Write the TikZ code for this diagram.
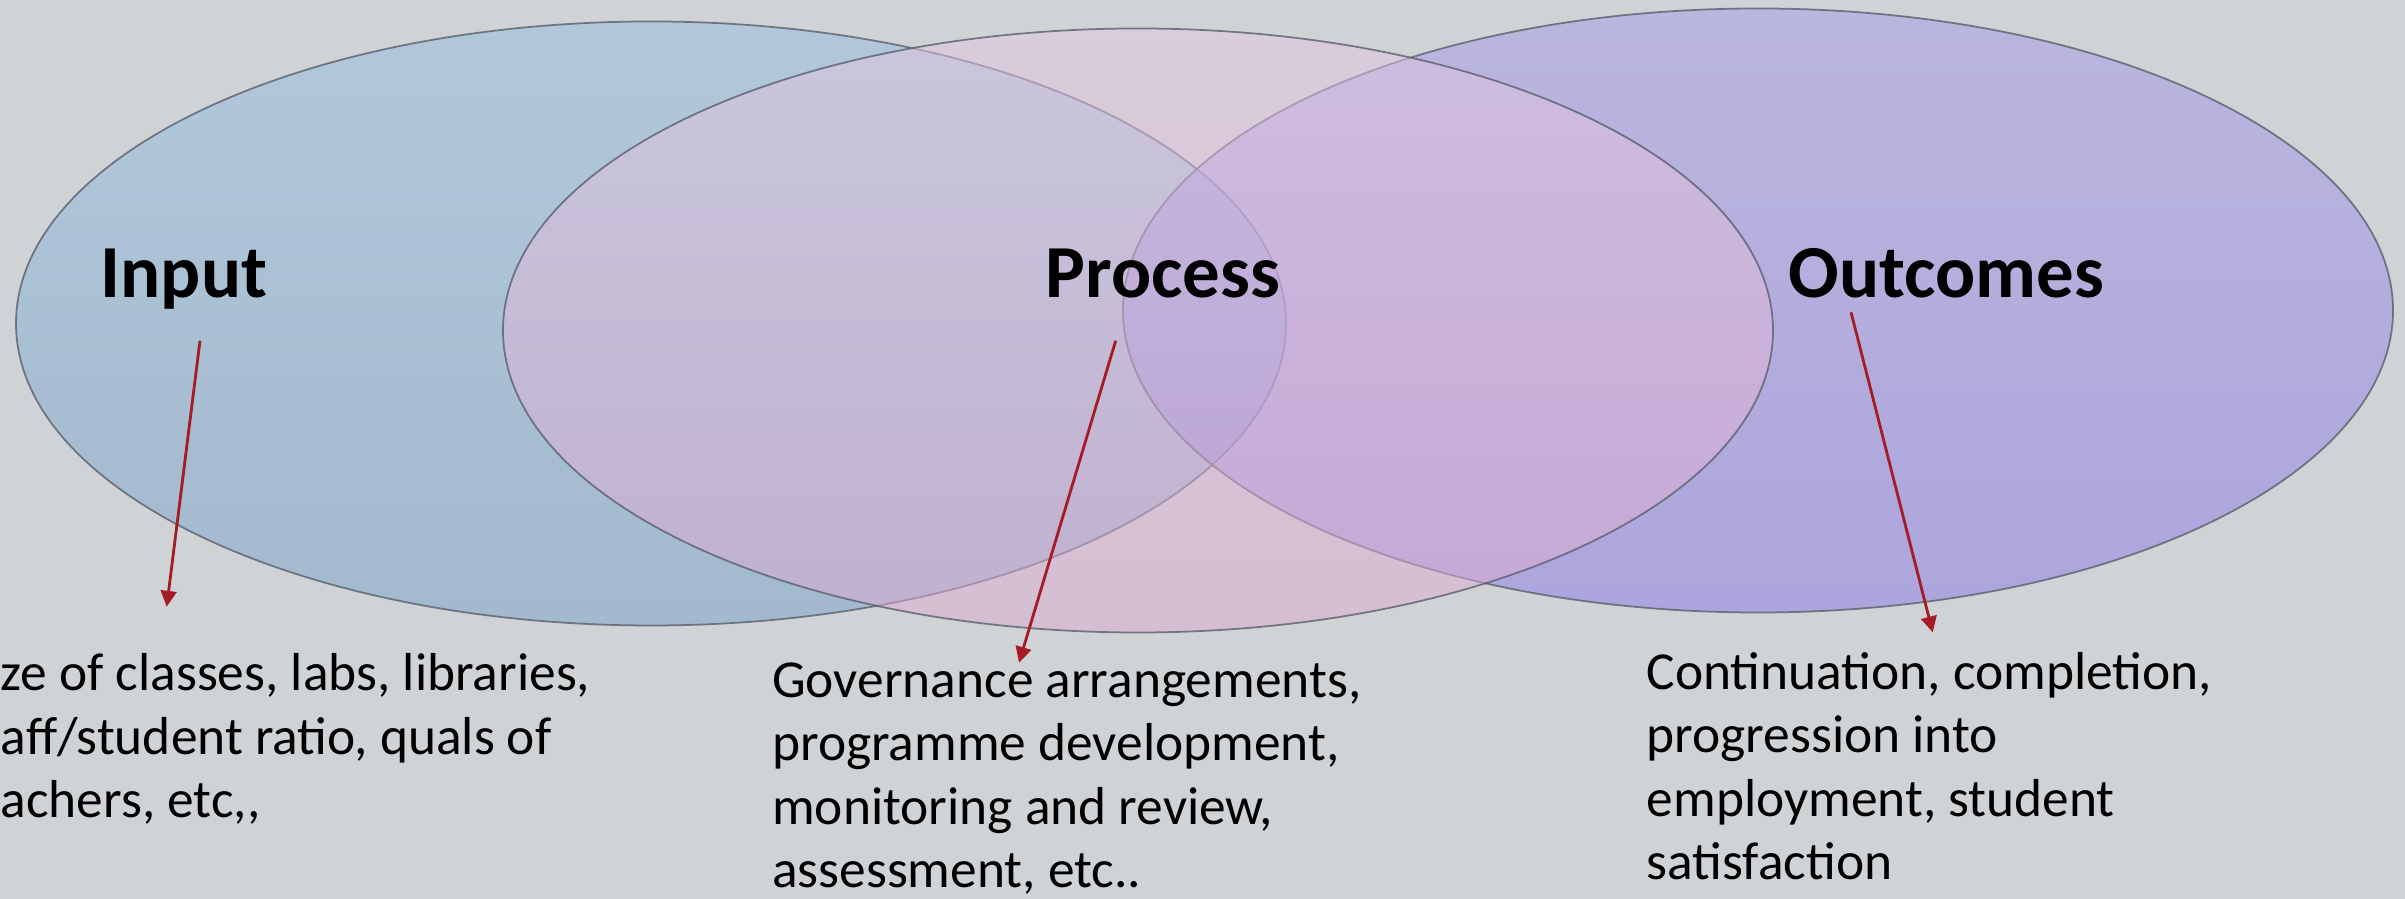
\documentclass[tikz,border=0pt]{standalone}
\usepackage{fontspec}
\setmainfont{Carlito}
\usetikzlibrary{arrows.meta}

\definecolor{slidebg}{RGB}{207,211,214}
\definecolor{inputtop}{RGB}{150,190,222}
\definecolor{inputbot}{RGB}{118,160,200}
\definecolor{proctop}{RGB}{228,198,225}
\definecolor{procbot}{RGB}{222,170,208}
\definecolor{outtop}{RGB}{166,155,230}
\definecolor{outbot}{RGB}{140,120,228}
\definecolor{rimline}{RGB}{90,95,110}
\definecolor{pointer}{RGB}{166,28,38}

\tikzset{
  venn/.style={draw=rimline, line width=0.5pt, fill opacity=0.5, draw opacity=0.8},
  heading/.style={font=\fontsize{21.3}{25}\selectfont\bfseries, inner sep=0pt, anchor=base west},
  blurb/.style={font=\fontsize{15.2}{18.1}\selectfont, align=left, inner sep=0pt, anchor=base west},
  pointto/.style={-{Triangle[length=4.5pt,width=4.5pt]}, pointer, line width=0.8pt}
}

\begin{document}
\begin{tikzpicture}
    % Slide area
    \useasboundingbox (0,0) rectangle (24.05,8.99);
    \clip (0,0) rectangle (24.05,8.99);
    \fill[slidebg] (0,0) rectangle (24.05,8.99);
    % Ellipses (Process last, it lies over the other two)
    \shade[venn, top color=inputtop, bottom color=inputbot] (6.51,5.755) ellipse [x radius=6.35, y radius=3.02];
    \shade[venn, top color=outtop, bottom color=outbot] (17.58,5.885) ellipse [x radius=6.35, y radius=3.02];
    \shade[venn, top color=proctop, bottom color=procbot] (11.38,5.685) ellipse [x radius=6.35, y radius=3.02];
    % Headings
    \node[heading] (input) at (1.00,6.01) {Input};
    \node[heading] (process) at (10.45,6.01) {Process};
    \node[heading] (outcomes) at (17.88,6.01) {Outcomes};
    % Descriptions (base anchor sits on the last line)
    \node[blurb] (inputtxt) at (0.00,0.81) {ze of classes, labs, libraries,\\aff/student ratio, quals of\\achers, etc,{},};
    \node[blurb] (processtxt) at (7.715,0.11) {Governance arrangements,\\programme development,\\monitoring and review,\\assessment, etc..};
    \node[blurb] (outcomestxt) at (16.46,0.19) {Continuation, completion,\\progression into\\employment, student\\satisfaction};
    % Pointers
    \coordinate (in-tail) at (2.00,5.583);
    \coordinate (in-head) at (1.667,2.923);
    \coordinate (pr-tail) at (11.157,5.583);
    \coordinate (pr-head) at (10.19,2.363);
    \coordinate (out-tail) at (18.51,5.867);
    \coordinate (out-head) at (19.327,2.667);
    \draw[pointto] (in-tail) -- (in-head);
    \draw[pointto] (pr-tail) -- (pr-head);
    \draw[pointto] (out-tail) -- (out-head);
\end{tikzpicture}
\end{document}
